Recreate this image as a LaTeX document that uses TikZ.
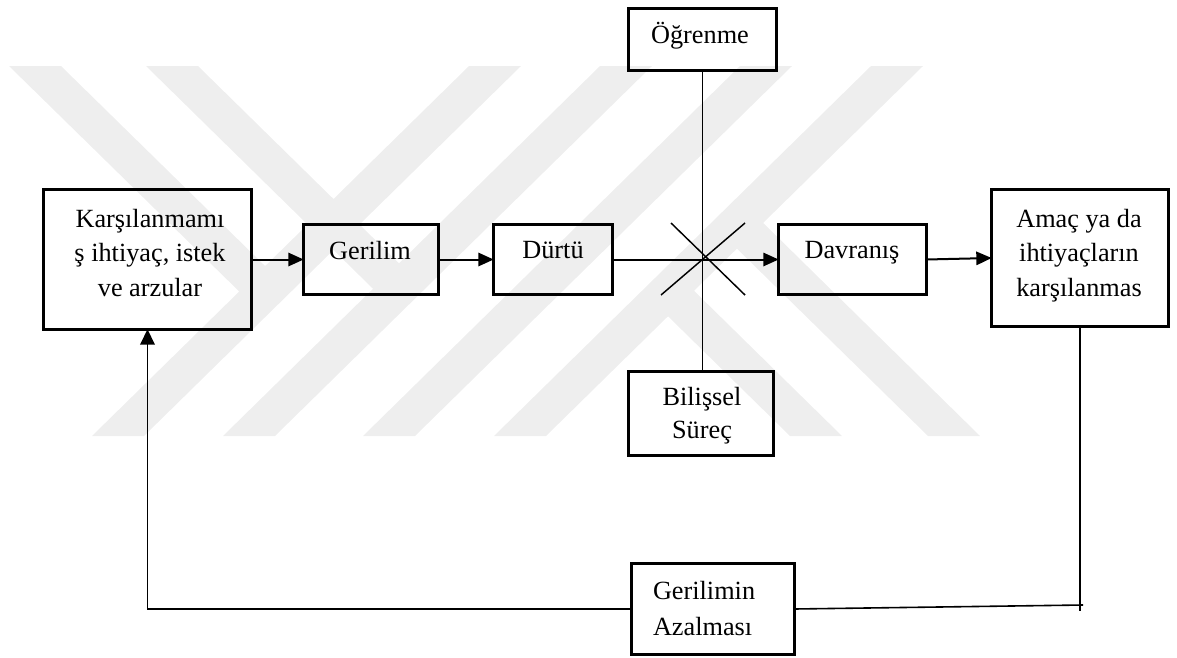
\documentclass[tikz,border=0pt]{standalone}
\usepackage{fontspec}
\setmainfont{Liberation Serif}
\usetikzlibrary{arrows.meta}
\definecolor{wmgray}{RGB}{238,238,238}
\newcommand\tstrut{\rule{0pt}{18.75pt}}
\begin{document}
\begin{tikzpicture}[x=0.75pt,y=-0.75pt,
  box/.style={draw, line width=2.6pt, inner sep=0pt, outer sep=0pt},
  txt/.style={inner sep=0pt, outer sep=0pt, align=center, anchor=north,
    font=\fontsize{19.7pt}{25.9pt}\selectfont},
  flow/.style={line width=1.5pt, -{Triangle[length=11.5pt,width=10pt]}},
  thinline/.style={line width=1.1pt},
  fb/.style={line width=1.2pt},
  fbarrow/.style={line width=1.3pt, -{Triangle[length=11.5pt,width=11pt]}},
  band/.style={fill=wmgray, draw=none}]
\useasboundingbox (0,0) rectangle (1177,657);

% background stripes
\fill[band] (469,66) -- (521,66) -- (144,436) -- (92,436) -- cycle;
\fill[band] (600,66) -- (652,66) -- (275,436) -- (223,436) -- cycle;
\fill[band] (740,66) -- (792,66) -- (415,436) -- (363,436) -- cycle;
\fill[band] (871,66) -- (923,66) -- (546,436) -- (494,436) -- cycle;
\fill[band] (9,66) -- (61,66) -- (278,278.7) -- (252,304) -- cycle;
\fill[band] (146,66) -- (198,66) -- (412,276) -- (386,301.5) -- cycle;
\fill[band] (655,303.5) -- (681,278) -- (842,436) -- (790,436) -- cycle;
\fill[band] (724,236) -- (750,210) -- (980,436) -- (928,436) -- cycle;

% boxes
\node[box, minimum width=155.8pt, minimum height=104.8pt] (K) at (147.5,259.5) {};
\node[box, minimum width=101pt, minimum height=52.3pt] (G) at (371,259.5) {};
\node[box, minimum width=89pt, minimum height=52.3pt] (D) at (553,259.5) {};
\node[box, minimum width=110.8pt, minimum height=46.3pt] (O) at (702.5,39.5) {};
\node[box, minimum width=108.5pt, minimum height=62.8pt] (B) at (701,413.5) {};
\node[box, minimum width=110.8pt, minimum height=52.3pt] (V) at (852.5,259.5) {};
\node[box, minimum width=132.5pt, minimum height=102.5pt] (A) at (1080,258) {};
\node[box, minimum width=122pt, minimum height=68pt] (R) at (713,609) {};

% labels
\node[txt] (Kt) at (150,202) {\tstrut Karşılanmamı\\ş ihtiyaç, istek\\ve arzular};
\node[txt] (Gt) at (370,234) {\tstrut Gerilim};
\node[txt] (Dt) at (553,233) {\tstrut Dürtü};
\node[txt] (Vt) at (852,233) {\tstrut Davranış};
\node[txt] (Ot) at (700,18) {\tstrut Öğrenme};
\node[txt] (At) at (1079,202) {\tstrut Amaç ya da\\ihtiyaçların\\karşılanmas};
\node[txt, font=\fontsize{19.7pt}{24.75pt}\selectfont] (Bt) at (702,380) {\tstrut Bilişsel\\Süreç};
\node[txt, align=left, anchor=north west, font=\fontsize{19.7pt}{27pt}\selectfont] (Rt) at (653,574) {\tstrut Gerilimin\\Azalması};

% main flow
\draw[flow] (K.east) -- (G.west);
\draw[flow] (G.east) -- (D.west);
\draw[flow] (D.east) -- (V.west);
\draw[flow] (V.east) -- (A.west);

% crossing influences
\draw[thinline] (O.south) -- (O.south |- B.north);
\coordinate (c1) at (661,295);
\coordinate (c2) at (745,223);
\coordinate (c3) at (671,223);
\coordinate (c4) at (745,295);
\draw[thinline] (c1) -- (c2);
\draw[thinline] (c3) -- (c4);

% feedback loop
\coordinate (frv) at (1080,611);
\coordinate (frh) at (1083,605);
\draw[fb] (A.south) -- (frv);
\draw[fb] (frh) -- (R.east);
\draw[fbarrow] (R.west) -| (K.south);
\end{tikzpicture}
\end{document}
